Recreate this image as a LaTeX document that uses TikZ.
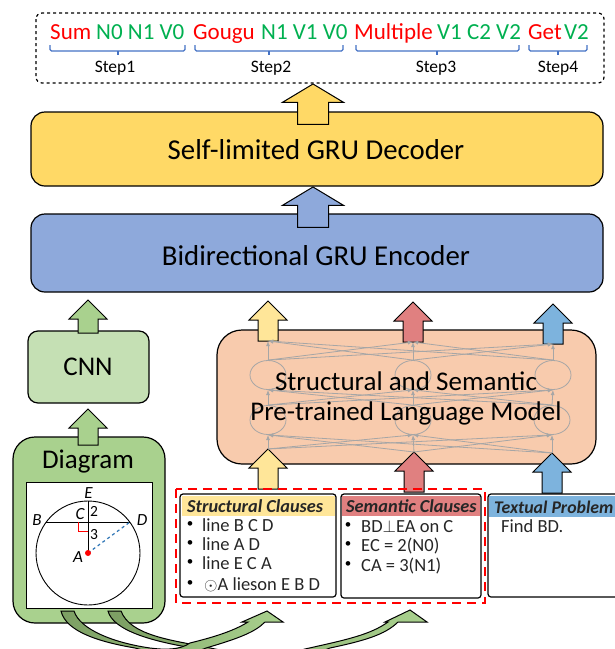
\documentclass[tikz,border=0pt]{standalone}
\usepackage{fontspec}
\setmainfont{Carlito}
\usetikzlibrary{shapes.arrows,shapes.geometric}
\definecolor{yellowbox}{HTML}{FFD966}
\definecolor{bluebox}{HTML}{8EA9DB}
\definecolor{greenbox}{HTML}{A9D18E}
\definecolor{greenlight}{HTML}{C5E0B4}
\definecolor{greendark}{HTML}{7C9F63}
\definecolor{orangebox}{HTML}{F8CBAD}
\definecolor{yellowhead}{HTML}{FFE699}
\definecolor{redhead}{HTML}{E08080}
\definecolor{bluehead}{HTML}{7DB3DD}
\definecolor{tokred}{HTML}{FF0000}
\definecolor{tokgreen}{HTML}{00B050}
\definecolor{bracketblue}{HTML}{4472C4}
\definecolor{textdark}{HTML}{262626}
\definecolor{netgray}{HTML}{A6A6A6}
\definecolor{radiusblue}{HTML}{2E75B6}
\tikzset{
  box/.style={draw, line width=1.2pt, rounded corners=#1},
  upblock/.style={single arrow, draw, line width=1pt, shape border rotate=90, single arrow head extend=9pt, single arrow head indent=0pt, inner sep=9.5pt, outer sep=0pt, anchor=tip, minimum width=37pt, minimum height=#1},
  wideblock/.style={upblock=#1, minimum width=60pt, inner sep=15pt, single arrow head extend=15pt, single arrow tip angle=118},
  tok/.style={font=\fontsize{23}{23}\selectfont, anchor=base west, inner sep=0pt},
  steplabel/.style={font=\fontsize{17.5}{17.5}\selectfont, inner sep=0pt},
  headtext/.style={font=\fontsize{18.3}{18.3}\selectfont\bfseries\itshape, text=textdark, anchor=west, inner sep=0pt},
  item/.style={font=\fontsize{18.5}{18.5}\selectfont, text=textdark, anchor=west, inner sep=0pt},
  dotitem/.style={font=\fontsize{13}{13}\selectfont, inner sep=0pt},
  bigtext/.style={font=\fontsize{28.8}{28.8}\selectfont, inner sep=0pt},
  midtext/.style={font=\fontsize{27}{27}\selectfont, inner sep=0pt},
  geo/.style={font=\fontsize{17}{17}\selectfont\itshape, inner sep=0pt},
  geonum/.style={font=\fontsize{15.5}{15.5}\selectfont, inner sep=0pt},
  cell/.style={ellipse, draw=netgray, line width=.8pt, minimum width=36pt, minimum height=29pt, inner sep=0pt},
  net/.style={draw=netgray, line width=.8pt, -latex},
  bracket/.style={draw=bracketblue, line width=1.2pt, rounded corners=1.5pt},
  swoosh/.style={draw, line width=1pt, left color=greendark, middle color=greenbox, right color=greenbox},
}
\begin{document}
\begin{tikzpicture}[x=1pt,y=-1pt]
\useasboundingbox (0,0) rectangle (615,649);
% output sequence
\draw[line width=1.2pt, dashed, rounded corners=6pt] (36,13) rectangle (604,83);
\node[tok, tokred] (sum) at (50,39) {Sum};
\node[tok, tokgreen] (sumargs) at (96,39) {N0 N1 V0};
\node[tok, tokred] (gougu) at (193,39) {Gougu};
\node[tok, tokgreen] (gouguargs) at (261,39) {N1 V1 V0};
\node[tok, tokred] (multiple) at (354,39) {Multiple};
\node[tok, tokgreen] (multipleargs) at (437,39) {V1 C2 V2};
\node[tok, tokred] (get) at (528,39) {Get};
\node[tok, tokgreen] (getargs) at (564,39) {V2};
\draw[bracket] (50,45) -- (50,51) -- (185,51) -- (185,45);
\draw[bracket] (118,51) -- (118,55);
\draw[bracket] (195,45) -- (195,51) -- (343,51) -- (343,45);
\draw[bracket] (269,51) -- (269,55);
\draw[bracket] (356,45) -- (356,51) -- (519,51) -- (519,45);
\draw[bracket] (437,51) -- (437,55);
\draw[bracket] (529,45) -- (529,51) -- (587,51) -- (587,45);
\draw[bracket] (558,51) -- (558,55);
\node[steplabel] (step1) at (115,68) {Step1};
\node[steplabel] (step2) at (271,68) {Step2};
\node[steplabel] (step3) at (436,68) {Step3};
\node[steplabel] (step4) at (558,68) {Step4};
% encoder and decoder
\draw[box=14pt, fill=yellowbox] (31,112) rectangle (603,186);
\node[bigtext] (decoder) at (316,150) {Self-limited GRU Decoder};
\draw[box=14pt, fill=bluebox] (31,214) rectangle (603,292);
\node[bigtext] (encoder) at (316,256) {Bidirectional GRU Encoder};
\draw[box=10pt, fill=greenlight] (28,331) rectangle (149,403);
\node[midtext] (cnn) at (88,367) {CNN};
% language model
\draw[box=25pt, fill=orangebox] (217,330) rectangle (596,464);
\node[upblock=40pt, fill=yellowhead] (outs) at (268,301) {};
\node[upblock=40pt, fill=redhead] (oute) at (413,302) {};
\node[upblock=40pt, fill=bluehead] (outt) at (553,304) {};
\node[upblock=40pt, fill=yellowhead] (ins) at (268,449) {};
\node[upblock=40pt, fill=redhead] (ine) at (414,452) {};
\node[upblock=40pt, fill=bluehead] (int) at (552,453) {};
\node[cell] (cs1) at (268,420) {};
\node[cell] (ce1) at (413,420) {};
\node[cell] (ct1) at (552,420) {};
\node[cell] (cs2) at (268,375) {};
\node[cell] (ce2) at (413,375) {};
\node[cell] (ct2) at (553,375) {};
\draw[net] (ins.tip) -- (cs1.south);
\draw[net] (ins.tip) -- (ce1.south);
\draw[net] (ins.tip) -- (ct1.south);
\draw[net] (ine.tip) -- (cs1.south);
\draw[net] (ine.tip) -- (ce1.south);
\draw[net] (ine.tip) -- (ct1.south);
\draw[net] (int.tip) -- (cs1.south);
\draw[net] (int.tip) -- (ce1.south);
\draw[net] (int.tip) -- (ct1.south);
\draw[net] (cs1.north) -- (cs2.south);
\draw[net] (cs1.north) -- (ce2.south);
\draw[net] (cs1.north) -- (ct2.south);
\draw[net] (ce1.north) -- (cs2.south);
\draw[net] (ce1.north) -- (ce2.south);
\draw[net] (ce1.north) -- (ct2.south);
\draw[net] (ct1.north) -- (cs2.south);
\draw[net] (ct1.north) -- (ce2.south);
\draw[net] (ct1.north) -- (ct2.south);
\draw[net] (cs2.north) -- (outs.tail);
\draw[net] (cs2.north) -- (oute.tail);
\draw[net] (cs2.north) -- (outt.tail);
\draw[net] (ce2.north) -- (outs.tail);
\draw[net] (ce2.north) -- (oute.tail);
\draw[net] (ce2.north) -- (outt.tail);
\draw[net] (ct2.north) -- (outs.tail);
\draw[net] (ct2.north) -- (oute.tail);
\draw[net] (ct2.north) -- (outt.tail);
\node[midtext] (lmone) at (406,381) {Structural and Semantic};
\node[midtext] (lmtwo) at (406,413) {Pre-trained Language Model};
% diagram
\draw[box=22pt, fill=greenbox] (13,437) rectangle (165,623);
\node[midtext] (diagram) at (88,462) {Diagram};
\draw[line width=1pt, fill=white] (26,482) rectangle (152,608);
\coordinate (ptA) at (88,553);
\coordinate (ptB) at (46,522);
\coordinate (ptC) at (88,522);
\coordinate (ptD) at (130,522);
\coordinate (ptE) at (88,501);
\draw[line width=.9pt] (ptA) circle (52);
\draw[line width=.9pt] (ptB) -- (ptD);
\draw[line width=.9pt] (ptE) -- (ptA);
\draw[red, line width=.7pt] (78,522) -- (78,531) -- (88,531);
\draw[line width=1.2pt, dashed, radiusblue] (ptA) -- (ptD);
\fill[red] (ptA) circle (3);
\node[geo] (labelE) at (88.5,493) {E};
\node[geo] (labelB) at (37,520) {B};
\node[geo] (labelC) at (80,514) {C};
\node[geo] (labelD) at (142,520) {D};
\node[geo] (labelA) at (78,557) {A};
\node[geonum] (label2) at (94,511) {2};
\node[geonum] (label3) at (94,535) {3};
% clause boxes
\draw[box=3pt, fill=white] (180,494) rectangle (336,597);
\fill[yellowhead] (182,495.5) rectangle (335,516);
\node[headtext] (headstruct) at (187,506) {Structural Clauses};
\node[dotitem] (ds1) at (190,525) {\textbullet};
\node[dotitem] (ds2) at (190,544) {\textbullet};
\node[dotitem] (ds3) at (190,563) {\textbullet};
\node[dotitem] (ds4) at (190,584) {\textbullet};
\node[item] (is1) at (202,525) {line B C D};
\node[item] (is2) at (202,544) {line A D};
\node[item] (is3) at (202,563) {line E C A};
\node[item] (is4) at (204,585) {$\odot$A lieson E B D};
\draw[box=3pt, fill=white] (341,494) rectangle (481,598);
\fill[redhead] (342,495.5) rectangle (480,516);
\node[headtext] (headsem) at (346,506) {Semantic Clauses};
\node[dotitem] (de1) at (348,526) {\textbullet};
\node[dotitem] (de2) at (348,545) {\textbullet};
\node[dotitem] (de3) at (348,565) {\textbullet};
\node[item] (ie1) at (361,527) {BD$\perp$EA on C};
\node[item] (ie2) at (361,546) {EC = 2(N0)};
\node[item] (ie3) at (361,566) {CA = 3(N1)};
\draw[box=3pt, fill=white] (488,494) rectangle (640,597);
\fill[bluehead] (489,495.5) rectangle (640,517);
\node[headtext, font=\fontsize{17.8}{17.8}\selectfont\bfseries\itshape] (headtext) at (494,507) {Textual Problem};
\node[item] (find) at (501,526) {Find BD.};
\draw[red, line width=2.5pt, dash pattern=on 9pt off 6pt] (176,489) rectangle (485,603);
% block arrows
\node[wideblock=35pt, fill=yellowbox] (decout) at (313,84) {};
\node[wideblock=35pt, fill=bluebox] (encout) at (313,187) {};
\node[upblock=33pt, fill=greenbox] (cnnout) at (88,300) {};
\node[upblock=36pt, fill=greenbox] (diagout) at (88,409) {};
% curved arrows
\draw[swoosh] (108,611) .. controls (113,630) and (150,642) .. (206,650) .. controls (250,660) and (300,660) .. (330,648) .. controls (363,641) and (385,635) .. (398,622) -- (427,622) -- (410,610) -- (385,622) -- (388,622) .. controls (370,635) and (345,640) .. (305,649) .. controls (275,658) and (240,655) .. (206,647) .. controls (170,640) and (130,635) .. (121,611) -- cycle;
\draw[swoosh] (61,611) .. controls (66,632) and (100,642) .. (135,648) .. controls (160,655) and (190,655) .. (206,648) .. controls (240,638) and (255,632) .. (265,622) -- (283,622) -- (267,611) -- (242,622) -- (248,622) .. controls (232,632) and (210,638) .. (190,643) .. controls (180,650) and (165,650) .. (150,648) .. controls (115,643) and (80,630) .. (74,611) -- cycle;
\end{tikzpicture}
\end{document}
